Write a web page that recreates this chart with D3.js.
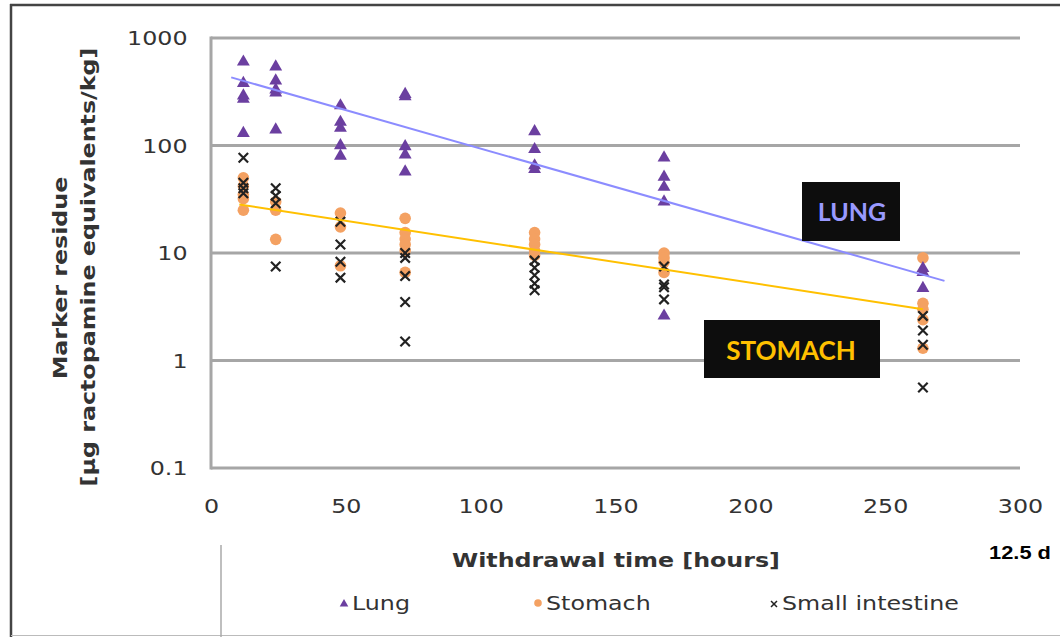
<!DOCTYPE html>
<html>
<head>
<meta charset="utf-8">
<script src="https://cdn.jsdelivr.net/npm/d3@7"></script>
<style>
  body { margin: 0; background: #fff; }
  svg { display: block; }
</style>
</head>
<body>
<div id="chart"></div>
<script>
// sampling times (hours) and residues per tissue, one array per time
var times = [12, 24, 48, 72, 120, 168, 264];
var lungValues = [
    [600, 380, 290, 270, 130],
    [540, 400, 330, 310, 140],
    [235, 165, 145, 100, 80],
    [300, 285, 98, 82, 57],
    [135, 92, 65, 60],
    [77, 51, 41, 30, 2.6],
    [7.2, 6.6, 4.7]
];
var stomachValues = [
    [50, 42, 35, 32, 25],
    [30, 25, 13.4],
    [23.5, 17.5, 7.6],
    [21, 15.5, 13.5, 12, 10.5, 6.6],
    [15.5, 13.5, 12, 10.5, 9.5],
    [10, 9, 8.2, 6.6],
    [9, 3.4, 3, 2.4, 1.3]
];
var intestineValues = [
    [77, 45, 40, 36],
    [40, 34, 29, 7.5],
    [19.5, 12, 8.3, 5.9],
    [10, 9, 6.1, 3.5, 1.5],
    [8.5, 7.3, 6.2, 5.2, 4.5],
    [7.5, 5.1, 4.8, 3.7],
    [2.6, 1.9, 1.4, 0.56]
];
// trend lines (straight in log space): [time, residue] end points
var lungFit = [[7.5, 430], [272, 5.5]];
var stomachFit = [[10.5, 28.3], [264, 3.0]];

var xTicks = [0, 50, 100, 150, 200, 250, 300];
var yTicks = [0.1, 1, 10, 100, 1000];
var legendItems = ["Lung", "Stomach", "Small intestine"];

var W = 1060, H = 637;
var lungColor = "#6b3fa0", stomachColor = "#f4a162", intestineColor = "#222";
var stretch = "scale(1.25,1)"; // the source picture is widened a bit

var svg = d3.select("#chart").append("svg")
    .attr("width", W)
    .attr("height", H);

var x = d3.scaleLinear().domain([0, 300]).range([211, 1020]);
var y = d3.scaleLog().domain([0.1, 1000]).range([468, 38]);

// frame
svg.append("line").attr("x1", 10).attr("x2", W).attr("y1", 5).attr("y2", 5)
    .attr("stroke", "#444").attr("stroke-width", 2.5);
svg.append("line").attr("x1", 11).attr("x2", 11).attr("y1", 4).attr("y2", H)
    .attr("stroke", "#444").attr("stroke-width", 2.5);
svg.append("line").attr("x1", 11).attr("x2", W).attr("y1", 635.5).attr("y2", 635.5)
    .attr("stroke", "#bbb").attr("stroke-width", 1);
svg.append("line").attr("x1", 221).attr("x2", 221).attr("y1", 545).attr("y2", H)
    .attr("stroke", "#aaa").attr("stroke-width", 1.5);

// gridlines
svg.append("g").selectAll("line").data(yTicks).enter().append("line")
    .attr("x1", x(0)).attr("x2", x(300))
    .attr("y1", d => y(d)).attr("y2", d => y(d))
    .attr("stroke", "#a6a6a6").attr("stroke-width", 3);
svg.append("line").attr("x1", x(0)).attr("x2", x(0))
    .attr("y1", y(1000) - 1.5).attr("y2", y(0.1) + 1.5)
    .attr("stroke", "#a6a6a6").attr("stroke-width", 3);

// axes
var yAxis = svg.append("g").attr("transform", "translate(190,0)")
    .call(d3.axisLeft(y).tickValues(yTicks).tickSize(0).tickFormat(d => String(d)));
var xAxis = svg.append("g").attr("transform", "translate(0,497)")
    .call(d3.axisBottom(x).tickValues(xTicks).tickSize(0).tickFormat(d3.format("d")));
[yAxis, xAxis].forEach(function (a) {
    a.select(".domain").remove();
    a.selectAll("text").attr("font-family", "DejaVu Sans").attr("font-size", 19)
        .attr("fill", "#333").attr("transform", stretch);
});
yAxis.selectAll("text").attr("x", -2).attr("dy", "0.36em");

// axis titles
svg.append("text")
    .attr("transform", "translate(67,278) rotate(-90) " + stretch)
    .attr("text-anchor", "middle")
    .attr("font-family", "DejaVu Sans").attr("font-weight", "bold").attr("font-size", 19)
    .attr("fill", "#333")
    .text("Marker residue");
svg.append("text")
    .attr("transform", "translate(95,267) rotate(-90) " + stretch)
    .attr("text-anchor", "middle")
    .attr("font-family", "DejaVu Sans").attr("font-weight", "bold").attr("font-size", 19)
    .attr("fill", "#333")
    .text("[µg ractopamine equivalents/kg]");
svg.append("text")
    .attr("transform", "translate(616,567) " + stretch)
    .attr("text-anchor", "middle")
    .attr("font-family", "DejaVu Sans").attr("font-weight", "bold").attr("font-size", 19)
    .attr("fill", "#333")
    .text("Withdrawal time [hours]");
svg.append("text")
    .attr("transform", "translate(1020,559) scale(1.15,1)")
    .attr("text-anchor", "middle")
    .attr("font-family", "Liberation Sans").attr("font-weight", "bold").attr("font-size", 19)
    .attr("fill", "#000")
    .text("12.5 d");

// flatten points
function flatten(values) {
    var pts = [];
    values.forEach(function (vals, i) {
        vals.forEach(function (v) { pts.push({ t: times[i], v: v }); });
    });
    return pts;
}

var tri = d3.symbol().type(d3.symbolTriangle).size(72);
var cross = d3.symbol().type(d3.symbolX).size(60);

var line = d3.line().x(d => x(d[0])).y(d => y(d[1]));

svg.append("g").selectAll("circle").data(flatten(stomachValues)).enter().append("circle")
    .attr("cx", d => x(d.t)).attr("cy", d => y(d.v)).attr("r", 5.8)
    .attr("fill", stomachColor);
svg.append("g").selectAll("path").data(flatten(intestineValues)).enter().append("path")
    .attr("d", cross)
    .attr("transform", d => "translate(" + x(d.t) + "," + y(d.v) + ")")
    .attr("fill", "none").attr("stroke", intestineColor).attr("stroke-width", 2.2);
svg.append("g").selectAll("path").data(flatten(lungValues)).enter().append("path")
    .attr("d", tri)
    .attr("transform", d => "translate(" + x(d.t) + "," + y(d.v) + ")")
    .attr("fill", lungColor);

// trend lines
svg.append("path").datum(lungFit).attr("d", line)
    .attr("fill", "none").attr("stroke", "#8c8cff").attr("stroke-width", 2);
svg.append("path").datum(stomachFit).attr("d", line)
    .attr("fill", "none").attr("stroke", "#ffc000").attr("stroke-width", 2);

// callout boxes
svg.append("rect").attr("x", 802).attr("y", 182).attr("width", 98).attr("height", 59)
    .attr("fill", "#0d0d0d");
svg.append("text").attr("x", 852).attr("y", 221).attr("text-anchor", "middle")
    .attr("font-family", "Lato").attr("font-weight", "bold").attr("font-size", 25)
    .attr("fill", "#9999ff").text("LUNG");
svg.append("rect").attr("x", 704).attr("y", 320).attr("width", 176).attr("height", 58)
    .attr("fill", "#0d0d0d");
svg.append("text").attr("x", 791).attr("y", 360).attr("text-anchor", "middle")
    .attr("font-family", "Lato").attr("font-weight", "bold").attr("font-size", 26)
    .attr("fill", "#ffc000").text("STOMACH");

// legend
var legendX = [339, 533, 769];
var lg = svg.append("g").selectAll("g").data(legendItems).enter().append("g")
    .attr("transform", (d, i) => "translate(" + legendX[i] + ",603)");
lg.each(function (d, i) {
    var g = d3.select(this);
    if (i == 0) {
        g.append("path").attr("d", d3.symbol().type(d3.symbolTriangle).size(32))
            .attr("transform", "translate(5,1)").attr("fill", lungColor);
    } else if (i == 1) {
        g.append("circle").attr("cx", 5).attr("cy", 0).attr("r", 3.8).attr("fill", stomachColor);
    } else {
        g.append("path").attr("d", d3.symbol().type(d3.symbolX).size(25))
            .attr("transform", "translate(5,1)")
            .attr("stroke", intestineColor).attr("stroke-width", 1.5);
    }
    g.append("text").attr("transform", "translate(13,0) " + stretch).attr("dy", "0.35em")
        .attr("font-family", "DejaVu Sans").attr("font-size", 19).attr("fill", "#333")
        .text(d);
});
</script>
</body>
</html>
